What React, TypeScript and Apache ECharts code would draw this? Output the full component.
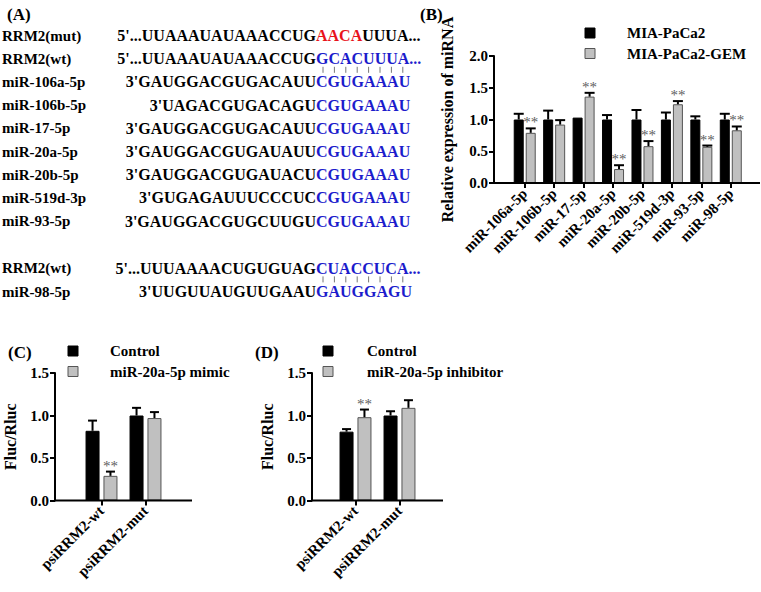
import React, { useEffect, useRef } from 'react';
import * as echarts from 'echarts';

const FONT = "'Liberation Serif', 'Times New Roman', serif";
const f = (size: number, weight = 'bold') => `${weight} ${size}px ${FONT}`;

// ---------- Panel A: sequence alignment ----------
const aLabels = ['RRM2(mut)', 'RRM2(wt)', 'miR-106a-5p', 'miR-106b-5p', 'miR-17-5p', 'miR-20a-5p', 'miR-20b-5p', 'miR-519d-3p', 'miR-93-5p', 'RRM2(wt)', 'miR-98-5p'];
const aPrefix = ["5'...UUAAAUAUAAACCUG", "5'...UUAAAUAUAAACCUG", "3'GAUGGACGUGACAUU", "3'UAGACGUGACAGU", "3'GAUGGACGUGACAUU", "3'GAUGGACGUGAUAUU", "3'GAUGGACGUGAUACU", "3'GUGAGAUUUCCCUC", "3'GAUGGACGUGCUUGU", "5'...UUUAAAACUGUGUAG", "3'UUGUUAUGUUGAAU"];
const aSeed = ['AACA', 'GCACUUUA...', 'CGUGAAAU', 'CGUGAAAU', 'CGUGAAAU', 'CGUGAAAU', 'CGUGAAAU', 'CGUGAAAU', 'CGUGAAAU', 'CUACCUCA...', 'GAUGGAGU'];
const aSeedKind = ['mut', 'seed', 'seed', 'seed', 'seed', 'seed', 'seed', 'seed', 'seed', 'seed', 'seed'];
const aTail = ['UUUA...', '', '', '', '', '', '', '', '', '', ''];
const aPairAfterRow = [1, 9];

// ---------- Panel B ----------
const bCategories = ['miR-106a-5p', 'miR-106b-5p', 'miR-17-5p', 'miR-20a-5p', 'miR-20b-5p', 'miR-519d-3p', 'miR-93-5p', 'miR-98-5p'];
const bParental = [1.0, 1.0, 1.03, 1.0, 1.0, 1.0, 1.0, 1.0];
const bParentalErr = [0.09, 0.14, 0, 0.07, 0.15, 0.11, 0.05, 0.09];
const bGem = [0.79, 0.92, 1.36, 0.22, 0.58, 1.24, 0.57, 0.83];
const bGemErr = [0.07, 0.07, 0.06, 0.06, 0.08, 0.05, 0.02, 0.06];
const bGemSig = [true, false, true, true, true, true, true, true];
const bYTicks = [0, 0.5, 1.0, 1.5, 2.0];

// ---------- Panel C ----------
const cCategories = ['psiRRM2-wt', 'psiRRM2-mut'];
const cControl = [0.82, 1.0];
const cControlErr = [0.12, 0.09];
const cMimic = [0.29, 0.97];
const cMimicErr = [0.05, 0.07];
const cSig = [true, false];

// ---------- Panel D ----------
const dCategories = ['psiRRM2-wt', 'psiRRM2-mut'];
const dControl = [0.81, 1.0];
const dControlErr = [0.03, 0.05];
const dInhibitor = [0.98, 1.09];
const dInhibitorErr = [0.09, 0.09];
const dSig = [true, false];

const BLACK = '#000000';
const GRAY = '#c0c0c0';
const GRAY_EDGE = '#555555';
const STAR = '#606060';
const RED = '#e8121c';
const BLUE = '#1c1ccc';

// grid geometry
const gB = { left: 510, top: 56, width: 235.5, height: 127, axisX: 494, xEnd: 760 };
const gC = { left: 79.5, top: 373, width: 88, height: 127.5, axisX: 55, xEnd: 192 };
const gD = { left: 333.5, top: 373, width: 88, height: 127.5, axisX: 312, xEnd: 443 };

const bBarW = 10, bGap = 0.2;
const cBarW = 14, cGap = 0.28;

function errSeries(gridIdx: number, values: number[], errs: number[], sigs: boolean[] | null, offset: number, cap: number) {
  return {
    type: 'custom',
    xAxisIndex: gridIdx,
    yAxisIndex: gridIdx,
    z: 5,
    silent: true,
    data: values.map((v, i) => [i, v, errs[i], sigs && sigs[i] ? 1 : 0]),
    renderItem: (params: any, api: any) => {
      const i = api.value(0);
      const v = api.value(1);
      const e = api.value(2);
      const s = api.value(3);
      const base = api.coord([i, v]);
      const top = api.coord([i, v + e]);
      const x = base[0] + offset;
      const children: any[] = [];
      if (e > 0) {
        children.push({ type: 'line', shape: { x1: x, y1: base[1], x2: x, y2: top[1] }, style: { stroke: '#000', lineWidth: 2 } });
        children.push({ type: 'line', shape: { x1: x - cap / 2, y1: top[1], x2: x + cap / 2, y2: top[1] }, style: { stroke: '#000', lineWidth: 2 } });
      }
      if (s) {
        children.push({
          type: 'text',
          style: { text: '**', x, y: top[1] - 6, textAlign: 'center', textVerticalAlign: 'middle', font: f(15, 'normal'), fill: STAR },
        });
      }
      return { type: 'group', children };
    },
  };
}

function xAxisFor(gridIndex: number, data: string[]) {
  return {
    gridIndex,
    type: 'category',
    data,
    axisLine: { show: false },
    axisTick: { show: true, alignWithLabel: true, length: 5, lineStyle: { color: '#000', width: 2 } },
    axisLabel: { rotate: 45, interval: 0, fontSize: 15, fontWeight: 'bold', fontFamily: FONT, color: '#000', margin: 8 },
  };
}

function yAxisFor(gridIndex: number, max: number, offset: number, name: string, nameGap: number) {
  return {
    gridIndex,
    type: 'value',
    min: 0,
    max,
    interval: 0.5,
    offset,
    name,
    nameLocation: 'middle',
    nameGap,
    nameTextStyle: { fontSize: 16, fontWeight: 'bold', fontFamily: FONT, color: '#000' },
    axisLine: { show: true, lineStyle: { color: '#000', width: 2 } },
    axisTick: { show: true, length: 5, lineStyle: { color: '#000', width: 2 } },
    splitLine: { show: false },
    axisLabel: { formatter: (v: number) => v.toFixed(1), fontSize: 15, fontWeight: 'bold', fontFamily: FONT, color: '#000', margin: 6 },
  };
}

function barSeries(gridIdx: number, name: string, data: number[], color: string, barWidth: number, gap: number) {
  return {
    type: 'bar',
    name,
    xAxisIndex: gridIdx,
    yAxisIndex: gridIdx,
    data,
    barWidth,
    barGap: `${gap * 100}%`,
    itemStyle: { color, borderColor: color === BLACK ? BLACK : GRAY_EDGE, borderWidth: 1 },
    silent: true,
  };
}

function legendItems(x: number, y: number, textX: number, labels: string[]) {
  const els: any[] = [];
  labels.forEach((lab, i) => {
    const yy = y + i * 20.5;
    els.push({ type: 'rect', shape: { x, y: yy - 5, width: 10, height: 10 }, style: { fill: i === 0 ? BLACK : GRAY, stroke: i === 0 ? BLACK : GRAY_EDGE, lineWidth: 1 } });
    els.push({ type: 'text', style: { text: lab, x: textX, y: yy, textVerticalAlign: 'middle', font: f(15), fill: '#000' } });
  });
  return els;
}

export default function App() {
  const ref = useRef<HTMLDivElement>(null);
  useEffect(() => {
    if (!ref.current) return;
    const chart = echarts.init(ref.current, null, { renderer: 'svg' });

    const graphic: any[] = [];
    // Panel labels
    [['(A)', 7, 14], ['(B)', 420, 14], ['(C)', 8, 352], ['(D)', 255, 352]].forEach(([t, x, y]) => {
      graphic.push({ type: 'text', style: { text: t, x, y, textVerticalAlign: 'middle', font: f(17), fill: '#000' } });
    });

    // Panel A rows
    const splitX = 316;
    const rowY = (i: number) => 35.5 + i * 23.2 + (i >= 9 ? 24 : 0);
    aLabels.forEach((lab, i) => {
      const y = rowY(i);
      graphic.push({ type: 'text', style: { text: lab, x: 2, y, textVerticalAlign: 'middle', font: f(15), fill: '#000' } });
      graphic.push({ type: 'text', style: { text: aPrefix[i], x: splitX, y, textAlign: 'right', textVerticalAlign: 'middle', font: f(16), fill: '#000' } });
      const seedColor = aSeedKind[i] === 'mut' ? RED : BLUE;
      graphic.push({
        type: 'text',
        style: {
          text: `{s|${aSeed[i]}}` + (aTail[i] ? `{t|${aTail[i]}}` : ''),
          x: splitX, y, textAlign: 'left', textVerticalAlign: 'middle',
          font: f(16), fill: '#000',
          rich: {
            s: { fill: seedColor, font: f(16) },
            t: { fill: '#000', font: f(16) },
          },
        },
      });
    });
    // base-pairing marks
    aPairAfterRow.forEach((r) => {
      const yMid = (rowY(r) + rowY(r + 1)) / 2 - 0.5;
      for (let k = 0; k < 8; k++) {
        const x = splitX + 7 + k * 11.4;
        graphic.push({ type: 'line', shape: { x1: x, y1: yMid - 3, x2: x, y2: yMid + 3 }, style: { stroke: '#777', lineWidth: 1 } });
      }
    });

    // Legends
    graphic.push(...legendItems(585, 33, 627, ['MIA-PaCa2', 'MIA-PaCa2-GEM']));
    graphic.push(...legendItems(68, 351, 110, ['Control', 'miR-20a-5p mimic']));
    graphic.push(...legendItems(323, 351, 367, ['Control', 'miR-20a-5p inhibitor']));

    // x axis lines (extend beyond category band like the original)
    [gB, gC, gD].forEach((g) => {
      const y = g.top + g.height;
      graphic.push({ type: 'line', z: 10, shape: { x1: g.axisX - 1, y1: y, x2: g.xEnd, y2: y }, style: { stroke: '#000', lineWidth: 2 } });
    });

    const bOff = (bBarW * (1 + bGap)) / 2;
    const cOff = (cBarW * (1 + cGap)) / 2;

    const option: any = {
      animation: false,
      backgroundColor: '#ffffff',
      textStyle: { fontFamily: FONT },
      grid: [
        { left: gB.left, top: gB.top, width: gB.width, height: gB.height },
        { left: gC.left, top: gC.top, width: gC.width, height: gC.height },
        { left: gD.left, top: gD.top, width: gD.width, height: gD.height },
      ],
      xAxis: [xAxisFor(0, bCategories), xAxisFor(1, cCategories), xAxisFor(2, dCategories)],
      yAxis: [
        yAxisFor(0, bYTicks[bYTicks.length - 1], gB.left - gB.axisX, 'Relative expression of miRNA', 39),
        yAxisFor(1, 1.5, gC.left - gC.axisX, 'Fluc/Rluc', 37),
        yAxisFor(2, 1.5, gD.left - gD.axisX, 'Fluc/Rluc', 37),
      ],
      series: [
        barSeries(0, 'MIA-PaCa2', bParental, BLACK, bBarW, bGap),
        barSeries(0, 'MIA-PaCa2-GEM', bGem, GRAY, bBarW, bGap),
        errSeries(0, bParental, bParentalErr, null, -bOff, 10),
        errSeries(0, bGem, bGemErr, bGemSig, bOff, 10),
        barSeries(1, 'Control', cControl, BLACK, cBarW, cGap),
        barSeries(1, 'miR-20a-5p mimic', cMimic, GRAY, cBarW, cGap),
        errSeries(1, cControl, cControlErr, null, -cOff, 9),
        errSeries(1, cMimic, cMimicErr, cSig, cOff, 9),
        barSeries(2, 'Control', dControl, BLACK, cBarW, cGap),
        barSeries(2, 'miR-20a-5p inhibitor', dInhibitor, GRAY, cBarW, cGap),
        errSeries(2, dControl, dControlErr, null, -cOff, 9),
        errSeries(2, dInhibitor, dInhibitorErr, dSig, cOff, 9),
      ],
      graphic,
    };
    chart.setOption(option);
    return () => chart.dispose();
  }, []);

  return <div ref={ref} style={{ position: 'fixed', left: 0, top: 0, width: 761, height: 592, background: '#fff' }} />;
}
